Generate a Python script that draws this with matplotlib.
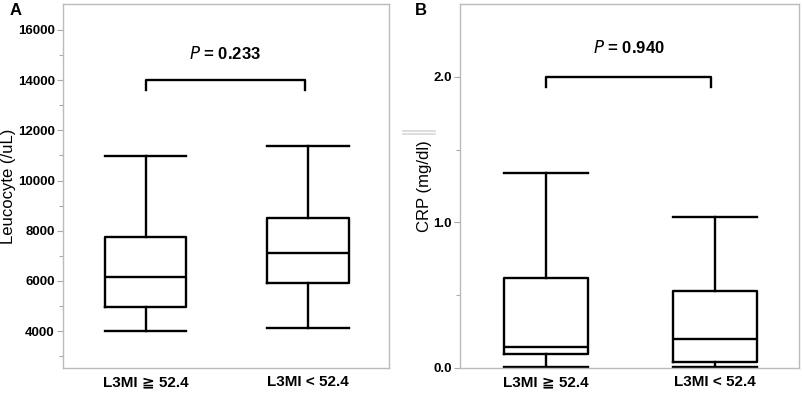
import matplotlib
matplotlib.use("Agg")
import matplotlib.pyplot as plt
from matplotlib.lines import Line2D

plt.rcParams['font.family'] = ['Liberation Sans', 'DejaVu Sans']

groups = ["L3MI \u2267 52.4", "L3MI < 52.4"]

# Leucocyte (/uL): lower whisker, Q1, median, Q3, upper whisker
wbc_low = [4000, 4120]
wbc_q1 = [4960, 5910]
wbc_med = [6150, 7110]
wbc_q3 = [7750, 8500]
wbc_high = [10980, 11380]
wbc_p = "0.233"

# CRP (mg/dl)
crp_low = [0.005, 0.007]
crp_q1 = [0.096, 0.04]
crp_med = [0.144, 0.20]
crp_q3 = [0.62, 0.53]
crp_high = [1.34, 1.04]
crp_p = "0.940"

fig = plt.figure(figsize=(8.03, 4.05), dpi=100)
axA = fig.add_axes([0.0785, 0.0914, 0.406, 0.899])
axB = fig.add_axes([0.5729, 0.0914, 0.4222, 0.899])


def draw_panel(ax, low, q1, med, q3, high, ylim, major, minor, fmt, ylabel,
               p, bracket_y, drop, text_y):
    stats = []
    for i in range(len(groups)):
        stats.append(dict(whislo=low[i], q1=q1[i], med=med[i], q3=q3[i],
                          whishi=high[i], label=groups[i]))
    lw = 1.7
    ax.bxp(stats, positions=[1, 2], widths=0.5, showfliers=False,
           boxprops=dict(color='black', linewidth=lw),
           medianprops=dict(color='black', linewidth=lw),
           whiskerprops=dict(color='black', linewidth=lw),
           capprops=dict(color='black', linewidth=lw),
           capwidths=0.5)
    ax.set_xlim(0.49, 2.5)
    ax.set_ylim(*ylim)
    ax.set_yticks(major)
    ax.set_yticks(minor, minor=True)
    ax.set_yticklabels([fmt.format(v) for v in major], fontsize=9.5,
                       fontweight='bold')
    ax.set_xticks([1, 2])
    ax.set_xticklabels(groups, fontsize=11, fontweight='bold')
    ax.tick_params(axis='x', length=0, pad=5)
    ax.tick_params(axis='y', which='both', color='#aaaaaa', length=4,
                   width=0.8, pad=2)
    ax.tick_params(axis='y', which='minor', length=3)
    for s in ax.spines.values():
        s.set_color('#bbbbbb')
        s.set_linewidth(1.0)
    ax.set_ylabel(ylabel, fontsize=12, labelpad=1)

    # significance bracket
    ax.plot([1, 1, 1.98, 1.98],
            [bracket_y - drop, bracket_y, bracket_y, bracket_y - drop],
            color='black', linewidth=1.7, solid_joinstyle='round')
    ax.text(1.49, text_y, r"$\it{P}$" + " = " + p, ha='center', va='center',
            fontsize=12, fontweight='bold')


draw_panel(axA, wbc_low, wbc_q1, wbc_med, wbc_q3, wbc_high,
           (2530, 17040), list(range(4000, 16001, 2000)),
           list(range(3000, 16000, 2000)), "{:d}", "Leucocyte (/uL)",
           wbc_p, 14000, 400, 15050)
draw_panel(axB, crp_low, crp_q1, crp_med, crp_q3, crp_high,
           (0, 2.5), [0.0, 1.0, 2.0], [0.5, 1.5], "{:.1f}", "CRP (mg/dl)",
           crp_p, 2.0, 0.07, 2.2)

fig.text(0.012, 0.975, "A", fontsize=12, fontweight='bold', va='center')
fig.text(0.517, 0.975, "B", fontsize=12, fontweight='bold', va='center')

# faint scan artifact left of panel B
for yy in (0.676, 0.668):
    fig.add_artist(Line2D([0.502, 0.542], [yy, yy], transform=fig.transFigure,
                          color='#d8d8d8', linewidth=1.2))

fig.savefig("out.png", dpi=100)
